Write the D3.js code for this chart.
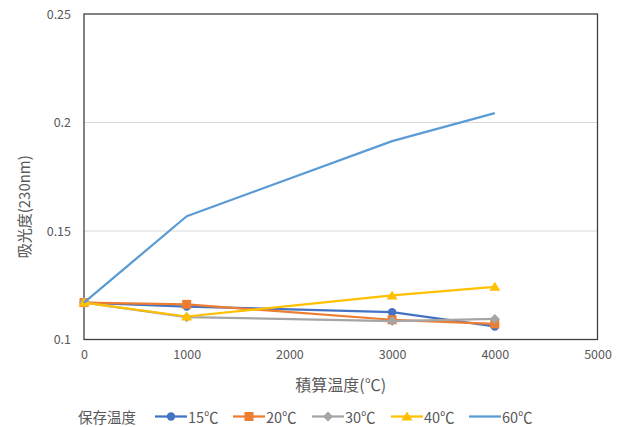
<!DOCTYPE html>
<html><head><meta charset="utf-8">
<script src="https://cdn.jsdelivr.net/npm/d3@7"></script>
<style>
body{margin:0;background:#fff;}
text{font-family:"Noto Sans CJK JP","Noto Sans",sans-serif;fill:#595959;}
</style></head>
<body><svg id="c" width="627" height="427"></svg>
<script>
const xValues = [0, 1000, 3000, 4000];
const s15 = [0.117, 0.1152, 0.1126, 0.106];
const s20 = [0.117, 0.1162, 0.1091, 0.1072];
const s30 = [0.117, 0.1103, 0.1085, 0.1095];
const s40 = [0.117, 0.1106, 0.1203, 0.1243];
const s60 = [0.117, 0.1568, 0.1914, 0.2043];
const seriesNames = ["15℃", "20℃", "30℃", "40℃", "60℃"];
const seriesColors = ["#4472C4", "#ED7D31", "#A5A5A5", "#FFC000", "#5B9BD5"];
const seriesMarkers = ["circle", "square", "diamond", "triangle", "none"];
const xTicks = [0, 1000, 2000, 3000, 4000, 5000];
const yTicks = [0.1, 0.15, 0.2, 0.25];
const xTitle = "積算温度(℃)";
const yTitle = "吸光度(230nm)";
const legendTitle = "保存温度";

const series = [s15, s20, s30, s40, s60].map((v, i) => ({
  name: seriesNames[i], color: seriesColors[i], marker: seriesMarkers[i],
  pts: v.map((y, j) => ({x: xValues[j], y}))
}));

const svg = d3.select("#c");
const L = 84, R = 597.5, T = 14, B = 339.5;
const x = d3.scaleLinear().domain([0, 5000]).range([L, R]);
const y = d3.scaleLinear().domain([0.1, 0.25]).range([B, T]);

// gridlines
svg.append("g").selectAll("line").data(yTicks.slice(1, -1)).join("line")
  .attr("x1", L).attr("x2", R).attr("y1", d => y(d)).attr("y2", d => y(d))
  .attr("stroke", "#D9D9D9").attr("stroke-width", 1);

// axes (labels only)
const xAxis = svg.append("g").attr("transform", `translate(0,${B})`)
  .call(d3.axisBottom(x).tickValues(xTicks).tickSize(0).tickPadding(11).tickFormat(d3.format("d")));
xAxis.select(".domain").remove();
xAxis.selectAll("text").attr("font-size", 12.5).style("fill", "#595959").attr("font-family", null);

const yAxis = svg.append("g").attr("transform", `translate(${L},0)`)
  .call(d3.axisLeft(y).tickValues(yTicks).tickSize(0).tickPadding(13).tickFormat(d => String(d)));
yAxis.select(".domain").remove();
yAxis.selectAll("text").attr("font-size", 12.5).style("fill", "#595959").attr("font-family", null);

// border box
svg.append("rect").attr("x", L).attr("y", T).attr("width", R - L).attr("height", B - T)
  .attr("fill", "none").attr("stroke", "#404040").attr("stroke-width", 1.3);

// titles
svg.append("text").attr("x", (L + R) / 2).attr("y", 384).attr("text-anchor", "middle")
  .attr("dominant-baseline", "central").attr("font-size", 16).text(xTitle);
svg.append("text").attr("transform", `translate(23,${(T + B) / 2 + 30}) rotate(-90)`)
  .attr("text-anchor", "middle").attr("dominant-baseline", "central").attr("font-size", 15).text(yTitle);

// lines
const line = d3.line().x(d => x(d.x)).y(d => y(d.y));
const gs = svg.append("g");
function drawMarker(g, type, color, cx, cy) {
  if (type === "circle") g.append("circle").attr("cx", cx).attr("cy", cy).attr("r", 4.2).attr("fill", color);
  else if (type === "square") g.append("rect").attr("x", cx - 4.5).attr("y", cy - 4.5).attr("width", 9).attr("height", 9).attr("fill", color);
  else if (type === "diamond") g.append("path").attr("d", `M${cx},${cy-5}L${cx+5},${cy}L${cx},${cy+5}L${cx-5},${cy}Z`).attr("fill", color);
  else if (type === "triangle") g.append("path").attr("d", `M${cx},${cy-5}L${cx+5.5},${cy+4}L${cx-5.5},${cy+4}Z`).attr("fill", color);
}
[0,1,2,3,4].forEach(i => {
  const s = series[i];
  const g = gs.append("g");
  g.append("path").datum(s.pts).attr("d", line).attr("fill", "none")
    .attr("stroke", s.color).attr("stroke-width", 2.25).attr("stroke-linejoin", "round");
  s.pts.forEach(p => drawMarker(g, s.marker, s.color, x(p.x), y(p.y)));
});

// legend
const ly = 416.5;
svg.append("text").attr("x", 78).attr("y", ly).attr("dominant-baseline", "central")
  .attr("font-size", 14.5).text(legendTitle);
const legX = [155, 233, 312, 391, 469];
series.forEach((s, i) => {
  const g = svg.append("g");
  g.append("line").attr("x1", legX[i]).attr("x2", legX[i] + 32).attr("y1", ly).attr("y2", ly)
    .attr("stroke", s.color).attr("stroke-width", 2.25);
  drawMarker(g, s.marker, s.color, legX[i] + 16, ly);
  g.append("text").attr("x", legX[i] + 33).attr("y", ly).attr("dominant-baseline", "central")
    .attr("font-size", 14.5).text(s.name);
});
</script></body></html>
